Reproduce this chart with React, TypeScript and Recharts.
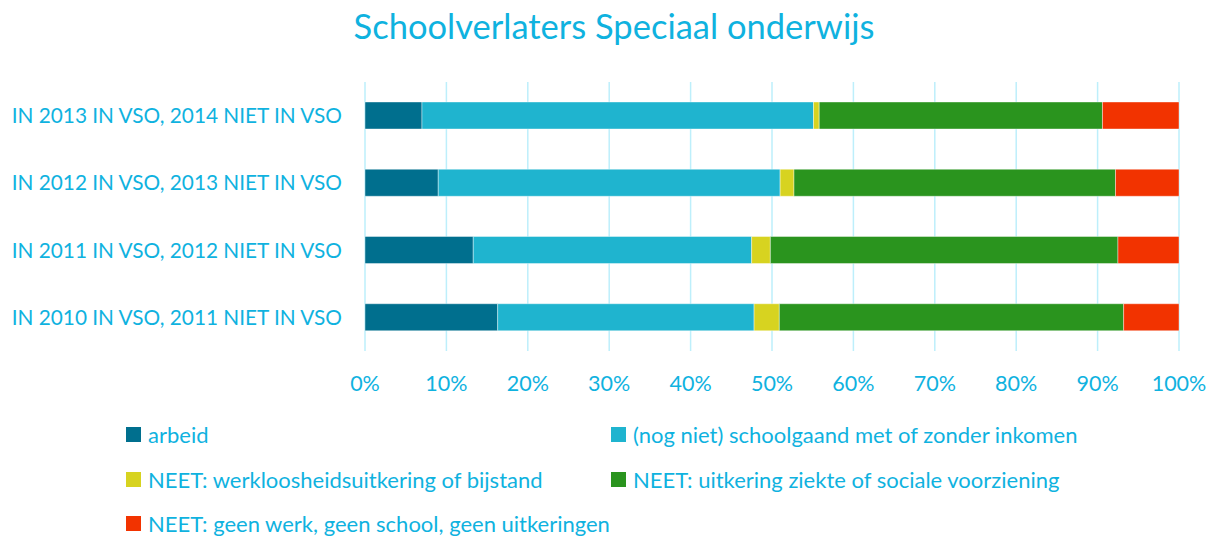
import React from 'react';
import { BarChart, Bar, XAxis, YAxis, CartesianGrid } from 'recharts';

const categories = [
  'IN 2013 IN VSO, 2014 NIET IN VSO',
  'IN 2012 IN VSO, 2013 NIET IN VSO',
  'IN 2011 IN VSO, 2012 NIET IN VSO',
  'IN 2010 IN VSO, 2011 NIET IN VSO',
];
const arbeid = [7.0, 9.0, 13.3, 16.3];
const schoolgaand = [48.1, 42.0, 34.2, 31.5];
const werkloos = [0.7, 1.7, 2.3, 3.1];
const ziekte = [34.8, 39.5, 42.7, 42.3];
const geenWerk = [9.4, 7.8, 7.5, 6.8];
const xTicks = [0, 10, 20, 30, 40, 50, 60, 70, 80, 90, 100];

const series = [
  { key: 'arbeid', label: 'arbeid', color: '#006f8e', values: arbeid },
  { key: 'school', label: '(nog niet) schoolgaand met of zonder inkomen', color: '#1fb4cf', values: schoolgaand },
  { key: 'werkloos', label: 'NEET: werkloosheidsuitkering of bijstand', color: '#d7d320', values: werkloos },
  { key: 'ziekte', label: 'NEET: uitkering ziekte of sociale voorziening', color: '#2a941e', values: ziekte },
  { key: 'geen', label: 'NEET: geen werk, geen school, geen uitkeringen', color: '#f23300', values: geenWerk },
];

const data = categories.map((name, i) => {
  const row: Record<string, string | number> = { name };
  series.forEach((s) => { row[s.key] = s.values[i]; });
  return row;
});

const TEXT = '#0fb2df';
const FONT = 'Lato, "Open Sans", sans-serif';

export default function App() {
  return (
    <div style={{ position: 'absolute', left: 0, top: 0, width: 1215, height: 536, background: '#fff', fontFamily: FONT }}>
      <div style={{ position: 'absolute', top: 5, left: 0, width: 1228, textAlign: 'center', color: TEXT, fontSize: 34.5 }}>
        Schoolverlaters Speciaal onderwijs
      </div>
      <BarChart
        width={1215}
        height={536}
        data={data}
        layout="vertical"
        margin={{ top: 82, right: 36, bottom: 145, left: 0 }}
        barCategoryGap={40}
      >
        <CartesianGrid horizontal={false} stroke="#bdeffb" strokeWidth={1.5} />
        <XAxis
          type="number"
          domain={[0, 100]}
          ticks={xTicks}
          tickFormatter={(v: number) => `${v}%`}
          axisLine={false}
          tickLine={false}
          tickSize={0}
          tickMargin={25}
          height={40}
          tick={{ fill: TEXT, fontSize: 21.5, fontFamily: FONT }}
          interval={0}
        />
        <YAxis
          type="category"
          dataKey="name"
          width={365}
          axisLine={false}
          tickLine={false}
          tickSize={0}
          tickMargin={23}
          tick={{ fill: TEXT, fontSize: 20.8, fontFamily: FONT }}
        />
        {series.map((s) => (
          <Bar
            key={s.key}
            dataKey={s.key}
            stackId="a"
            fill={s.color}
            stroke="#ffffff"
            strokeOpacity={0.4}
            strokeWidth={1}
            barSize={27}
            isAnimationActive={false}
          />
        ))}
      </BarChart>
      <div style={{ position: 'absolute', left: 126, top: 421, width: 1000, color: TEXT, fontSize: 22 }}>
        {series.map((s, i) => (
          <div
            key={s.key}
            style={{
              position: 'absolute',
              left: i % 2 === 0 ? 0 : 485,
              top: Math.floor(i / 2) * 44.5,
              display: 'flex',
              alignItems: 'center',
              whiteSpace: 'nowrap',
            }}
          >
            <span style={{ display: 'inline-block', width: 15, height: 15, background: s.color, marginRight: 7 }} />
            <span>{s.label}</span>
          </div>
        ))}
      </div>
    </div>
  );
}
